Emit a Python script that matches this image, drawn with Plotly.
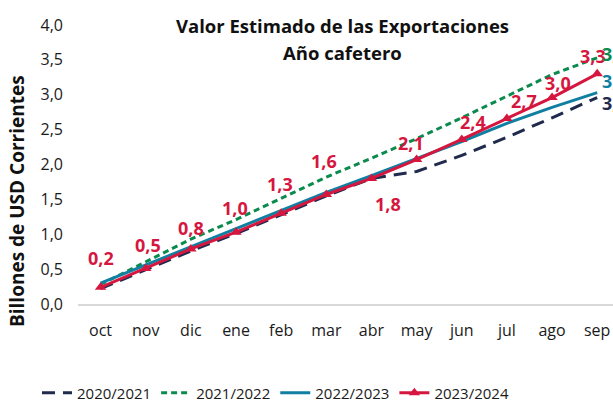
import plotly.graph_objects as go

months = ["oct", "nov", "dic", "ene", "feb", "mar", "abr", "may", "jun", "jul", "ago", "sep"]
s2020_2021 = [0.22, 0.49, 0.76, 1.01, 1.28, 1.55, 1.80, 1.90, 2.13, 2.39, 2.67, 2.96]
s2021_2022 = [0.28, 0.60, 0.93, 1.21, 1.51, 1.82, 2.09, 2.37, 2.67, 2.98, 3.29, 3.53]
s2022_2023 = [0.30, 0.56, 0.83, 1.08, 1.35, 1.60, 1.84, 2.08, 2.33, 2.59, 2.82, 3.03]
s2023_2024 = [0.24, 0.51, 0.79, 1.03, 1.30, 1.57, 1.80, 2.07, 2.36, 2.66, 2.96, 3.30]
series_names = ["2020/2021", "2021/2022", "2022/2023", "2023/2024"]
y_ticks = [0.0, 0.5, 1.0, 1.5, 2.0, 2.5, 3.0, 3.5, 4.0]
title_lines = ["Valor Estimado de las Exportaciones", "Año cafetero"]
y_title = "Billones de USD Corrientes"

NAVY = "#1F2A4D"
GREEN = "#0B8A4E"
TEAL = "#117FA2"
RED = "#D5173F"
FONT = "Open Sans"

def fmt(v):
    return f"{v:.1f}".replace(".", ",")

fig = go.Figure()
fig.add_trace(go.Scatter(x=months, y=s2020_2021, name=series_names[0], mode="lines",
                         line=dict(color=NAVY, width=3, dash="13px,8px")))
fig.add_trace(go.Scatter(x=months, y=s2021_2022, name=series_names[1], mode="lines",
                         line=dict(color=GREEN, width=3, dash="6px,4px")))
fig.add_trace(go.Scatter(x=months, y=s2022_2023, name=series_names[2], mode="lines",
                         line=dict(color=TEAL, width=3)))
fig.add_trace(go.Scatter(x=months, y=s2023_2024, name=series_names[3], mode="lines+markers",
                         line=dict(color=RED, width=3),
                         marker=dict(symbol="triangle-up", size=10, color=RED)))

# label offsets (px) for the 2023/2024 values
red_dx = [0, 2, 0, -1, -1, -2, 17, -6, 11, 17, 6, -4]
red_dy = [29, 23, 21, 24, 29, 33, -26, 17, 17, 17, 15, 18]
annotations = []
for i, (m, v) in enumerate(zip(months, s2023_2024)):
    annotations.append(dict(x=m, y=v, text=fmt(v), showarrow=False, xanchor="center", yanchor="middle",
                            xshift=red_dx[i], yshift=red_dy[i],
                            font=dict(family=FONT, size=18, color=RED, weight="bold")))
# end labels of the other series (clipped by the figure edge)
for vals, col, dy in [(s2021_2022, GREEN, 4), (s2022_2023, TEAL, 12), (s2020_2021, NAVY, -5)]:
    annotations.append(dict(x=months[-1], y=vals[-1], text=fmt(vals[-1]), showarrow=False,
                            xanchor="left", yanchor="middle", xshift=3, yshift=dy,
                            font=dict(family=FONT, size=18, color=col, weight="bold")))
# title (two lines)
for txt, ypx in zip(title_lines, [25, 52]):
    annotations.append(dict(text=txt, xref="paper", yref="paper", x=(342 - 78) / 535,
                            y=1 - (ypx - 25) / 279, xanchor="center", yanchor="middle", showarrow=False,
                            font=dict(family=FONT, size=18.5, color="#111111", weight="bold")))
# y-axis title
annotations.append(dict(text=y_title, xref="paper", yref="paper", x=(17 - 78) / 535,
                        y=1 - (201 - 25) / 279, xanchor="center", yanchor="middle", textangle=-90,
                        showarrow=False, font=dict(family=FONT, size=19, color="#111111", weight="bold")))

fig.update_layout(
    width=613, height=402,
    margin=dict(l=78, r=0, t=25, b=98),
    paper_bgcolor="white", plot_bgcolor="white",
    separators=",.",
    font=dict(family=FONT, size=16, color="#1a1a1a"),
    xaxis=dict(range=[-0.5, 11.35], showgrid=False, showline=True, linecolor="#d9d9d9", linewidth=1.5,
               ticks="", ticklabelstandoff=11, tickfont=dict(size=16, color="#1a1a1a")),
    yaxis=dict(range=[0, 4], tickvals=y_ticks, tickformat=".1f", showgrid=False, zeroline=False,
               showline=False, ticks="", ticklabelstandoff=14,
               tickfont=dict(size=16, color="#1a1a1a")),
    legend=dict(orientation="h", xref="container", yref="container", x=37 / 613, xanchor="left",
                y=1 - 393 / 402, yanchor="middle",
                font=dict(size=15, color="#1a1a1a"), bgcolor="rgba(0,0,0,0)"),
    annotations=annotations,
    showlegend=True,
)

fig.write_html("out.html", config={"displayModeBar": False},
               post_script="document.body.style.margin='0';document.body.style.overflow='hidden';")
